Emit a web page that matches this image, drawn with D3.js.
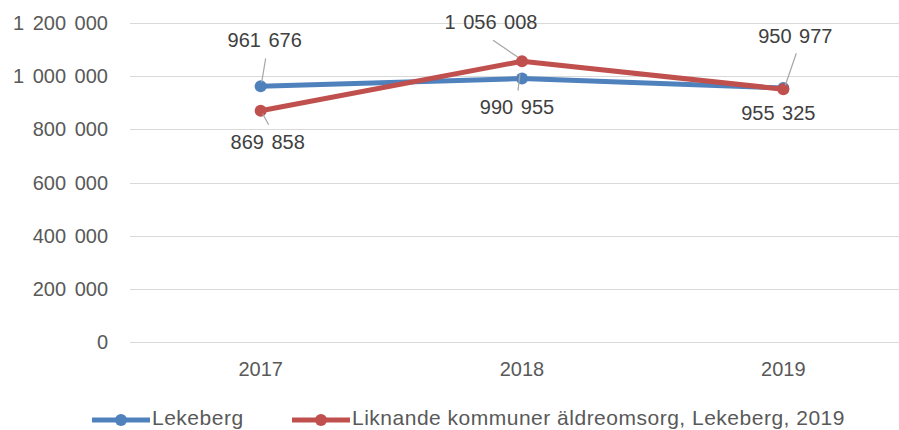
<!DOCTYPE html>
<html>
<head>
<meta charset="utf-8">
<script src="https://cdn.jsdelivr.net/npm/d3@7"></script>
<style>
  body { margin: 0; background: #fff; }
  svg text { font-family: "Liberation Sans", Arial, sans-serif; }
</style>
</head>
<body>
<div id="chart"></div>
<script>
const years = ['2017', '2018', '2019'];
const lekeberg = [961676, 990955, 955325];
const liknande = [869858, 1056008, 950977];
const yTicks = [0, 200000, 400000, 600000, 800000, 1000000, 1200000];
const seriesNames = ['Lekeberg', 'Liknande kommuner äldreomsorg, Lekeberg, 2019'];

const blue = '#4f81bd';
const red  = '#c0504d';
const grid = '#d9d9d9';
const ink  = '#595959';

const W = 899, H = 430;
const margin = { top: 23, right: -15, bottom: 88, left: 130 };

const svg = d3.select('#chart').append('svg').attr('width', W).attr('height', H);

const x = d3.scalePoint().domain(years).range([margin.left, W - margin.right]).padding(0.5);
const y = d3.scaleLinear().domain([0, 1200000]).range([H - margin.bottom, margin.top]);

const fmt = v => d3.format(',')(v).replace(/,/g, ' ');

// gridlines
svg.append('g').selectAll('line').data(yTicks).join('line')
  .attr('x1', margin.left).attr('x2', W)
  .attr('y1', d => Math.round(y(d)) + 0.5).attr('y2', d => Math.round(y(d)) + 0.5)
  .attr('stroke', grid).attr('stroke-width', 1);

// y axis labels
svg.append('g').selectAll('text').data(yTicks).join('text')
  .attr('x', 108).attr('y', d => y(d) + 7)
  .attr('text-anchor', 'end')
  .style('font-size', '20px').style('fill', ink).style('word-spacing', '3px')
  .text(fmt);

// x axis labels
svg.append('g').selectAll('text').data(years).join('text')
  .attr('x', d => x(d)).attr('y', 376)
  .attr('text-anchor', 'middle')
  .style('font-size', '20px').style('fill', ink)
  .text(d => d);

const line = d3.line().x((d, i) => x(years[i])).y(d => y(d));

const series = [
  { vals: lekeberg, color: blue,
    // label offsets from point: [dx, dy] for text baseline, leader start/end
    lab: [[4, -39, [5, -28], [1, -4]], [-5, 35, [-2, -5], [-4, 12]], [-5, 32, null, null]] },
  { vals: liknande, color: red,
    lab: [[7, 38, [2, 3], [8, 14]], [-31, -32, [-29, -21], [-4, -4]], [12, -46, [13, -36], [2, -4]]] }
];

series.forEach(s => {
  svg.append('path').datum(s.vals)
    .attr('d', line).attr('fill', 'none')
    .attr('stroke', s.color).attr('stroke-width', 5)
    .attr('stroke-linejoin', 'round');
  svg.append('g').selectAll('circle').data(s.vals).join('circle')
    .attr('cx', (d, i) => x(years[i])).attr('cy', d => y(d))
    .attr('r', 6).attr('fill', s.color);
});

// data labels with leader lines
series.forEach(s => {
  s.vals.forEach((v, i) => {
    const px = x(years[i]), py = y(v);
    const [dx, dy, a, b] = s.lab[i];
    if (a) {
      svg.append('line')
        .attr('x1', px + a[0]).attr('y1', py + a[1])
        .attr('x2', px + b[0]).attr('y2', py + b[1])
        .attr('stroke', '#a6a6a6').attr('stroke-width', 1.2);
    }
    svg.append('text')
      .attr('x', px + dx).attr('y', py + dy)
      .attr('text-anchor', 'middle')
      .style('font-size', '20px').style('fill', '#404040').style('word-spacing', '2px')
      .text(fmt(v));
  });
});

// legend
const legend = [
  { name: seriesNames[0], color: blue, x0: 92 },
  { name: seriesNames[1], color: red,  x0: 292 }
];
const ly = 420;
legend.forEach(l => {
  svg.append('line')
    .attr('x1', l.x0).attr('x2', l.x0 + 58).attr('y1', ly).attr('y2', ly)
    .attr('stroke', l.color).attr('stroke-width', 5);
  svg.append('circle').attr('cx', l.x0 + 29).attr('cy', ly).attr('r', 6).attr('fill', l.color);
  svg.append('text')
    .attr('x', l.x0 + 60).attr('y', 425)
    .style('font-size', '21px').style('fill', ink).style('letter-spacing', '0.5px')
    .text(l.name);
});
</script>
</body>
</html>
